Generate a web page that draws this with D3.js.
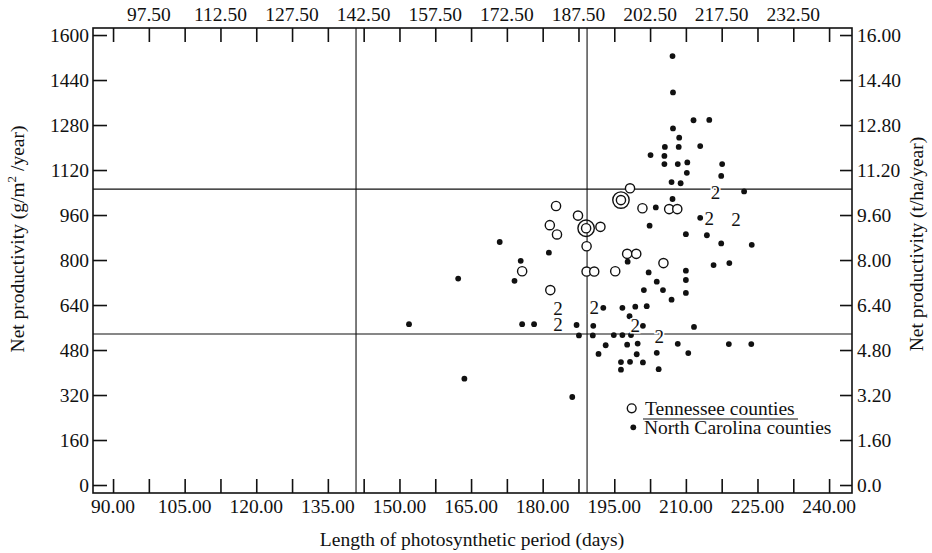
<!DOCTYPE html>
<html>
<head>
<meta charset="utf-8">
<script src="https://cdn.jsdelivr.net/npm/d3@7"></script>
<style>
  html, body { margin: 0; padding: 0; background: #fff; }
  svg { display: block; }
  text { font-family: "Liberation Serif", "DejaVu Serif", serif; fill: #111; }
</style>
</head>
<body>
<svg id="chart" width="932" height="553"></svg>
<script>
// ---------- DATA ----------
// Tennessee counties (open circles)
const tnDays = [198.3,196.4,182.8,200.9,206.5,208.2,187.4,181.5,189.1,192.1,183.0,189.2,197.7,199.6,205.3,175.7,189.2,190.8,195.2,181.6];
const tnProd = [1055,1013,992,984,981,981,958,924,913,918,891,849,822,822,789,760,759,759,760,693];
const tnDouble = [false,true,false,false,false,false,false,false,true,false,false,false,false,false,false,false,false,false,false,false];

// North Carolina counties (filled dots)
const ncDays = [207.2,207.3,211.6,214.9,207.3,208.6,205.6,208.5,213.0,202.6,205.5,205.5,208.3,210.3,217.6,210.2,217.4,207.0,208.9,222.2,
                207.2,203.7,213.0,202.4,210.0,214.4,217.4,223.8,215.8,219.1,210.0,202.2,210.0,203.9,201.2,205.2,210.0,207.0,192.7,196.7,
                199.4,201.8,198.2,152.0,175.7,178.2,187.1,190.6,201.0,211.7,187.6,190.5,194.9,196.7,198.5,208.3,193.2,197.7,199.9,219.0,
                223.7,191.7,199.7,203.9,210.5,196.4,198.3,201.0,196.4,204.3,162.3,171.0,174.1,175.4,197.8,163.6,186.2,181.3];
const ncProd = [1525,1396,1297,1298,1268,1235,1202,1202,1205,1173,1170,1141,1141,1147,1141,1110,1099,1077,1073,1044,
                1017,987,950,922,892,888,859,854,782,789,762,756,729,723,693,693,683,659,630,630,
                634,636,600,572,572,572,569,566,566,562,532,532,533,533,533,502,497,499,503,501,
                501,466,465,470,469,437,438,436,410,412,734,864,726,797,794,378,313,826];

// "2" markers (two coincident counties)
const twoDays = [183.2,183.2,190.8,199.4,204.4,216.2,214.9,220.5];
const twoProd = [628,571,630,568,529,1041,946,945];

// Reference lines
const refDays = [140.9, 189.3];
const refProd = [1052, 537];

// Axis ticks
const xTicks = d3.range(0, 21).map(i => 90 + i * 7.5);
const xBottomLabels = [90,105,120,135,150,165,180,195,210,225,240];
const xTopLabels = [97.5,112.5,127.5,142.5,157.5,172.5,187.5,202.5,217.5,232.5];
const yTicks = [0,160,320,480,640,800,960,1120,1280,1440,1600];
const yRightTicks = [0,1.6,3.2,4.8,6.4,8.0,9.6,11.2,12.8,14.4,16.0];

// ---------- CHART ----------
const svg = d3.select("#chart");
const L = 93, R = 852, T = 28, B = 493;
const x = d3.scaleLinear().domain([85.8, 244.8]).range([L, R]);
const y = d3.scaleLinear().domain([-28.4, 1625]).range([B, T]);
const yR = d3.scaleLinear().domain([-0.284, 16.25]).range([B, T]);

const FS = 19.5;
const tickLen = 14;

// axes (ticks pointing inward)
const gBottom = svg.append("g").attr("transform", `translate(0,${B})`)
  .call(d3.axisTop(x).tickValues(xTicks).tickSize(tickLen).tickFormat(""));
const gTop = svg.append("g").attr("transform", `translate(0,${T})`)
  .call(d3.axisBottom(x).tickValues(xTicks).tickSize(tickLen).tickFormat(""));
const gLeft = svg.append("g").attr("transform", `translate(${L},0)`)
  .call(d3.axisRight(y).tickValues(yTicks).tickSize(tickLen).tickFormat(""));
const gRight = svg.append("g").attr("transform", `translate(${R},0)`)
  .call(d3.axisLeft(yR).tickValues(yRightTicks).tickSize(12).tickFormat(""));
[gBottom, gTop, gLeft, gRight].forEach(g => {
  g.select(".domain").remove();
  g.selectAll(".tick line").attr("stroke", "#111").attr("stroke-width", 1.6);
});

// frame
svg.append("rect").attr("x", L).attr("y", T).attr("width", R - L).attr("height", B - T)
  .attr("fill", "none").attr("stroke", "#111").attr("stroke-width", 1.6);

// tick labels
svg.append("g").selectAll("text").data(xBottomLabels).join("text")
  .attr("x", d => x(d)).attr("y", B + 20).attr("text-anchor", "middle")
  .attr("font-size", FS).text(d => d3.format(".2f")(d));
svg.append("g").selectAll("text").data(xTopLabels).join("text")
  .attr("x", d => x(d)).attr("y", T - 7).attr("text-anchor", "middle")
  .attr("font-size", FS).text(d => d3.format(".2f")(d));
svg.append("g").selectAll("text").data(yTicks).join("text")
  .attr("x", L - 4).attr("y", d => y(d)).attr("dy", "0.35em").attr("text-anchor", "end")
  .attr("font-size", FS).text(d => d);
svg.append("g").selectAll("text").data(yRightTicks).join("text")
  .attr("x", R + 5).attr("y", d => yR(d)).attr("dy", "0.35em").attr("text-anchor", "start")
  .attr("font-size", FS).text(d => d === 0 ? "0.0" : d3.format(".2f")(d));

// reference lines
svg.append("g").selectAll("line").data(refDays).join("line")
  .attr("x1", d => x(d)).attr("x2", d => x(d)).attr("y1", T).attr("y2", B)
  .attr("stroke", "#111").attr("stroke-width", 1.1);
svg.append("g").selectAll("line").data(refProd).join("line")
  .attr("x1", L).attr("x2", R).attr("y1", d => y(d)).attr("y2", d => y(d))
  .attr("stroke", "#111").attr("stroke-width", 1.1);

// NC dots
const nc = ncDays.map((d, i) => ({ d, p: ncProd[i] }));
svg.append("g").selectAll("circle").data(nc).join("circle")
  .attr("cx", d => x(d.d)).attr("cy", d => y(d.p)).attr("r", 2.9).attr("fill", "#111");

// TN circles
const tn = tnDays.map((d, i) => ({ d, p: tnProd[i], dbl: tnDouble[i] }));
const gTn = svg.append("g");
gTn.selectAll("circle.o").data(tn).join("circle").attr("class", "o")
  .attr("cx", d => x(d.d)).attr("cy", d => y(d.p)).attr("r", 4.6)
  .attr("fill", "#fff").attr("stroke", "#111").attr("stroke-width", 1.4);
gTn.selectAll("circle.d").data(tn.filter(d => d.dbl)).join("circle").attr("class", "d")
  .attr("cx", d => x(d.d)).attr("cy", d => y(d.p)).attr("r", 8.2)
  .attr("fill", "none").attr("stroke", "#111").attr("stroke-width", 1.4);

// "2" markers
const twos = twoDays.map((d, i) => ({ d, p: twoProd[i] }));
svg.append("g").selectAll("text").data(twos).join("text")
  .attr("x", d => x(d.d)).attr("y", d => y(d.p)).attr("dy", "0.34em")
  .attr("text-anchor", "middle").attr("font-size", 19)
  .attr("stroke", "#fff").attr("stroke-width", 3).attr("paint-order", "stroke")
  .text("2");

// axis titles
svg.append("text").attr("x", 472).attr("y", 546).attr("text-anchor", "middle")
  .attr("font-size", FS).text("Length of photosynthetic period (days)");
const lt = svg.append("text").attr("transform", "translate(24,239) rotate(-90)")
  .attr("text-anchor", "middle").attr("font-size", FS);
lt.append("tspan").text("Net productivity (g/m");
lt.append("tspan").attr("font-size", 13).attr("dy", -8).text("2");
lt.append("tspan").attr("dy", 8).text(" /year)");
svg.append("text").attr("transform", "translate(923,244) rotate(-90)")
  .attr("text-anchor", "middle").attr("font-size", FS).text("Net productivity (t/ha/year)");

// legend
const lg = svg.append("g");
lg.append("circle").attr("cx", 631.7).attr("cy", 408.3).attr("r", 4.4)
  .attr("fill", "#fff").attr("stroke", "#111").attr("stroke-width", 1.4);
lg.append("text").attr("x", 645).attr("y", 414.5).attr("font-size", FS).text("Tennessee counties");
lg.append("line").attr("x1", 643).attr("x2", 798).attr("y1", 419).attr("y2", 419)
  .attr("stroke", "#111").attr("stroke-width", 1.1);
lg.append("circle").attr("cx", 633.3).attr("cy", 427.3).attr("r", 2.9).attr("fill", "#111");
lg.append("text").attr("x", 644).attr("y", 434).attr("font-size", FS).text("North Carolina counties");
</script>
</body>
</html>
